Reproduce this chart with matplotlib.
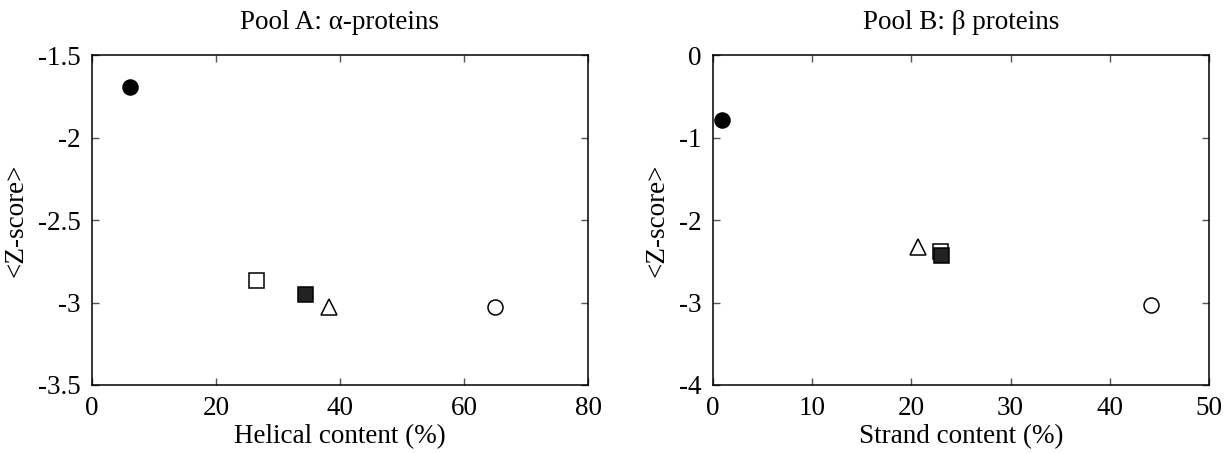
import matplotlib
matplotlib.use("Agg")
import matplotlib.pyplot as plt

plt.rcParams['font.family'] = ['Liberation Serif', 'DejaVu Serif']

# Pool A: alpha proteins
a_helical = [6.1, 26.4, 34.3, 38.2, 65.0]
a_zscore = [-1.696, -2.863, -2.95, -3.025, -3.03]

# Pool B: beta proteins
b_strand = [0.9, 22.9, 23.0, 20.7, 44.2]
b_zscore = [-0.786, -2.38, -2.425, -2.33, -3.036]

# marker styles per point: filled circle, open square, filled square, open triangle, open circle
marker_shapes = ['o', 's', 's', '^', 'o']
marker_faces = ['black', 'white', '#222222', 'white', 'white']

FS = 19.5

fig = plt.figure(figsize=(12.31, 4.53), dpi=100)
ax1 = fig.add_axes([92/1231, 1-385/453, (588-92)/1231, (385-55)/453])
ax2 = fig.add_axes([713/1231, 1-385/453, (1209-713)/1231, (385-55)/453])


def draw(ax, xs, ys, xlim, ylim, xticks, yticks, xlabel, title):
    for i in range(len(xs)):
        ax.plot([xs[i]], [ys[i]], linestyle='none', marker=marker_shapes[i],
                markersize=10.8 if marker_shapes[i] != '^' else 11.2,
                markerfacecolor=marker_faces[i], markeredgecolor='black',
                markeredgewidth=1.1, zorder=3)
    ax.set_xlim(*xlim)
    ax.set_ylim(*ylim)
    ax.set_xticks(xticks)
    ax.set_yticks(yticks)
    ax.set_xticklabels([f"{t:g}" for t in xticks])
    ax.set_yticklabels([f"{t:g}" for t in yticks])
    ax.tick_params(direction='in', top=True, right=True, length=5, width=1,
                   color='#555555', labelsize=FS, pad=8)
    for s in ax.spines.values():
        s.set_linewidth(1.1)
    ax.set_xlabel(xlabel, fontsize=FS, labelpad=2)
    ax.set_ylabel('<Z-score>', fontsize=FS, labelpad=7)
    ax.set_title(title, fontsize=FS, pad=19)


draw(ax1, a_helical, a_zscore, (0, 80), (-3.5, -1.5), [0, 20, 40, 60, 80],
     [-3.5, -3, -2.5, -2, -1.5], 'Helical content (%)', 'Pool A: α-proteins')
draw(ax2, b_strand, b_zscore, (0, 50), (-4, 0), [0, 10, 20, 30, 40, 50],
     [-4, -3, -2, -1, 0], 'Strand content (%)', 'Pool B: β proteins')

fig.savefig('out.png', dpi=100)
